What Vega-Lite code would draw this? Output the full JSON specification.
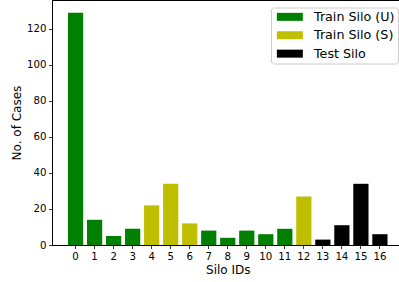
{
  "$schema": "https://vega.github.io/schema/vega-lite/v6.json",
  "autosize": "none",
  "padding": {"left": 52, "top": 0, "right": 0, "bottom": 37},
  "width": 351.5,
  "height": 245,
  "background": "white",
  "config": {
    "font": "DejaVu Sans",
    "view": {"stroke": "black", "strokeWidth": 1},
    "axis": {
      "grid": false,
      "domainColor": "black",
      "domainWidth": 1,
      "tickColor": "black",
      "tickSize": 3.5,
      "tickWidth": 0.8,
      "labelColor": "black",
      "labelFontSize": 10.2,
      "labelFont": "DejaVu Sans",
      "titleFont": "DejaVu Sans",
      "titleFontSize": 12,
      "titleFontWeight": "normal",
      "titleColor": "black",
      "labelPadding": 2.5
    }
  },
  "data": {
    "values": [
      {"id": 0, "cases": 129, "silo": "Train Silo (U)"},
      {"id": 1, "cases": 14, "silo": "Train Silo (U)"},
      {"id": 2, "cases": 5, "silo": "Train Silo (U)"},
      {"id": 3, "cases": 9, "silo": "Train Silo (U)"},
      {"id": 4, "cases": 22, "silo": "Train Silo (S)"},
      {"id": 5, "cases": 34, "silo": "Train Silo (S)"},
      {"id": 6, "cases": 12, "silo": "Train Silo (S)"},
      {"id": 7, "cases": 8, "silo": "Train Silo (U)"},
      {"id": 8, "cases": 4, "silo": "Train Silo (U)"},
      {"id": 9, "cases": 8, "silo": "Train Silo (U)"},
      {"id": 10, "cases": 6, "silo": "Train Silo (U)"},
      {"id": 11, "cases": 9, "silo": "Train Silo (U)"},
      {"id": 12, "cases": 27, "silo": "Train Silo (S)"},
      {"id": 13, "cases": 3, "silo": "Test Silo"},
      {"id": 14, "cases": 11, "silo": "Test Silo"},
      {"id": 15, "cases": 34, "silo": "Test Silo"},
      {"id": 16, "cases": 6, "silo": "Test Silo"}
    ]
  },
  "mark": {"type": "bar"},
  "encoding": {
    "x": {
      "field": "id",
      "type": "ordinal",
      "sort": "ascending",
      "scale": {"paddingInner": 0.2, "paddingOuter": 0.84},
      "axis": {"title": "Silo IDs", "labelAngle": 0, "titlePadding": 3}
    },
    "y": {
      "field": "cases",
      "type": "quantitative",
      "scale": {"domain": [0, 136.1], "nice": false, "zero": true},
      "axis": {"title": "No. of Cases", "values": [0, 20, 40, 60, 80, 100, 120], "titlePadding": 3}
    },
    "color": {
      "field": "silo",
      "type": "nominal",
      "scale": {
        "domain": ["Train Silo (U)", "Train Silo (S)", "Test Silo"],
        "range": ["#008000", "#bfbf00", "#000000"]
      },
      "legend": {
        "title": null,
        "orient": "none",
        "legendX": 219,
        "legendY": 7.5,
        "fillColor": "rgba(255,255,255,0.8)",
        "strokeColor": "#cccccc",
        "cornerRadius": 3,
        "padding": 3,
        "labelFontSize": 12.7,
        "labelFont": "DejaVu Sans",
        "labelColor": "black",
        "labelOffset": 17.8,
        "symbolType": "M-3.25,-1H3.25V1H-3.25Z",
        "symbolSize": 64,
        "symbolOffset": 9.5,
        "symbolStrokeWidth": 0,
        "symbolOpacity": 1,
        "rowPadding": 4.4
      }
    }
  }
}
